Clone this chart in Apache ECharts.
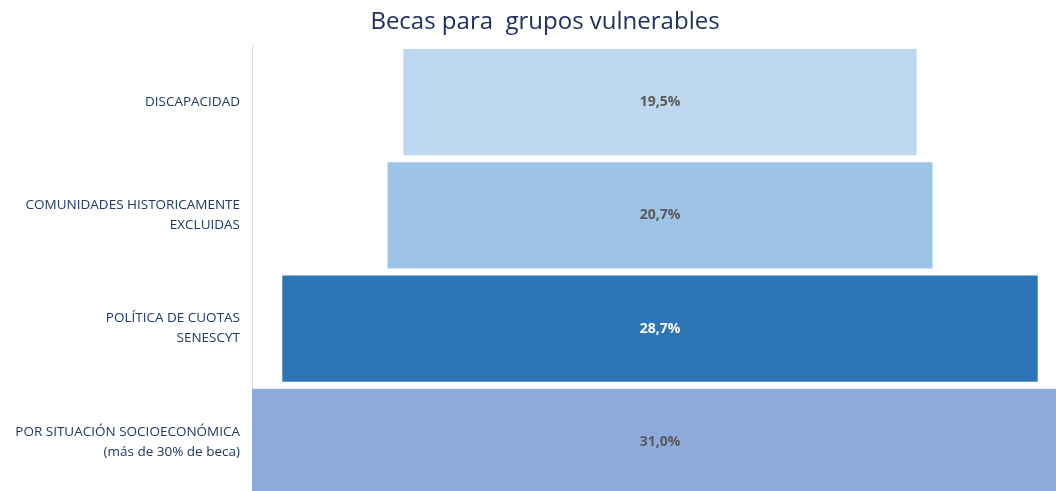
<!DOCTYPE html>
<html><head><meta charset="utf-8">
<script src="https://cdn.jsdelivr.net/npm/echarts@6/dist/echarts.min.js"></script>
<style>html,body{margin:0;padding:0;background:#fff}#c{width:1056px;height:491px}</style>
</head><body><div id="c"></div>
<script>
const categories = ['DISCAPACIDAD', 'COMUNIDADES HISTORICAMENTE\nEXCLUIDAS', 'POLÍTICA DE CUOTAS\nSENESCYT', 'POR SITUACIÓN SOCIOECONÓMICA\n(más de 30% de beca)'];
const values = [19.5, 20.7, 28.7, 31.0];
const colors = ['#BDD7EE', '#9DC3E6', '#2E75B6', '#8FAADC'];
const labelColors = ['#595959', '#595959', '#ffffff', '#595959'];
const maxV = 31.0;
const offsets = values.map(v => (maxV - v) / 2);

const chart = echarts.init(document.getElementById('c'));
chart.setOption({
  animation: false,
  title: {
    text: 'Becas para  grupos vulnerables',
    left: 540, top: 5, textAlign: 'center',
    textStyle: { fontFamily: 'Open Sans', fontSize: 24, fontWeight: 'normal', color: '#1F3060' }
  },
  grid: { left: 252, top: 45.5, width: 816, height: 453, outerBoundsMode: 'none', containLabel: false },
  xAxis: { type: 'value', min: 0, max: maxV, show: false },
  yAxis: {
    type: 'category', inverse: true, data: categories,
    axisLine: { show: true, lineStyle: { color: '#D9D9D9', width: 1 } },
    axisTick: { show: false },
    axisLabel: { fontFamily: 'Open Sans', fontSize: 13.5, color: '#1F3864', margin: 12, lineHeight: 20, align: 'right' }
  },
  series: [
    { type: 'bar', stack: 's', data: offsets, itemStyle: { color: 'transparent' }, barCategoryGap: '6%', silent: true },
    { type: 'bar', stack: 's', barCategoryGap: '6%',
      data: values.map((v, i) => ({ value: v, itemStyle: { color: colors[i] },
        label: { color: labelColors[i] } })),
      label: { show: true, position: 'inside', fontFamily: 'Open Sans', fontSize: 14, fontWeight: 'bold',
        formatter: p => p.value.toFixed(1).replace('.', ',') + '%' }
    }
  ]
});
</script></body></html>
